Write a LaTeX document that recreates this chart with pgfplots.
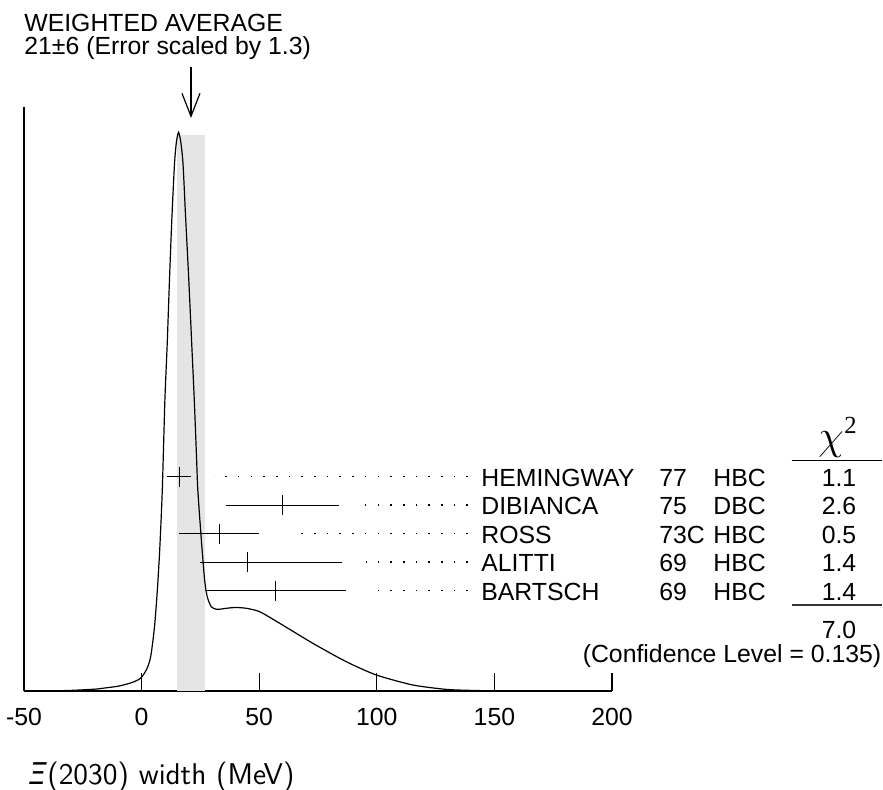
\documentclass[border=0pt]{standalone}
\usepackage{fontspec}
\setmainfont{Liberation Sans}
\newfontfamily\chifont{Liberation Serif}
\newfontfamily\greekfont{DejaVu Sans}
\usepackage{pgfplots}
\pgfplotsset{compat=1.18}
\usetikzlibrary{arrows.meta}

% ideogram curve: x = width (MeV), y = height in picture units
\pgfplotstableread{
x y
-40 0
-30 0.6
-20 1.8
-16.6 2.7
-10 4.8
-5.1 7.7
-2 10.5
0 13.7
2.0 21
3.2 28
4.1 37.7
5.5 64.3
6.7 101
7.7 141
8.8 201
9.9 291
10.9 347.7
11.9 414.3
12.9 474.3
14.0 527.7
14.8 549
15.7 558.7
16.6 550
17.6 527.7
18.7 474.3
20.0 414.3
21.3 347.7
22.4 291
23.4 231
23.9 201
25.4 151
26.8 111
27.9 94.3
29.6 84.3
31.8 81.7
34 82
36.0 82.7
40 83.5
44.5 82.7
50.2 79.3
58.7 67.7
72.8 47.7
87.0 29.3
99.8 16
115.3 6
129.5 1.6
140 0.6
150 0.2
175 0
}\ideogram

\begin{document}
\begin{tikzpicture}
\useasboundingbox (-12pt,-49.5pt) rectangle (429.5pt,345.5pt);
\begin{axis}[
  at={(0,0)}, anchor=south west,
  scale only axis, width=294pt, height=292pt,
  xmin=-50, xmax=200, ymin=0, ymax=584,
  axis x line=bottom, axis y line=left,
  axis line style={-, line width=0.65pt},
  xtick={-50,0,50,100,150,200},
  xticklabels={-50,0,50,100,150,200},
  ytick=\empty,
  tick align=inside, major tick length=9pt,
  tick style={line width=0.65pt, black},
  xticklabel style={font=\fontsize{12.4}{15}\selectfont, yshift=-5.3pt},
  clip=false,
]
\addplot[draw=none, fill=black!10] coordinates {(15,556) (27,556)} \closedcycle;
\addplot[black, line width=0.6pt, smooth, tension=0.4] table {\ideogram};
\addplot[black, line width=0.6pt, only marks, mark=|, mark size=5pt,
  error bars/.cd, x dir=both, x explicit, error mark=none,
  error bar style={line width=0.6pt}]
  coordinates {
    (16,214.3) +- (5,0)
    (60,185.8) +- (24,0)
    (33,157.3) +- (17,0)
    (45,128.8) += (40,0) -= (20,0)
    (57,100.3) +- (30,0)
  };
\draw[line width=0.6pt, -{Straight Barb[length=11.5pt,width=9pt]}]
  (axis cs:21,624) -- (axis cs:21,573);
\end{axis}

\begin{scope}[x=0.5pt, y=-0.5pt, shift={(-12pt,345.5pt)},
  every node/.style={inner sep=0pt, font=\fontsize{12.4}{15}\selectfont}]
  % leader dots
  \foreach \xs/\yy in {214/476.7, 360/505.2, 291/533.7, 366/562.2, 369/590.7}
    \draw[line width=0.8pt, dash pattern=on 0.8pt off 5.55pt] (468,\yy) -- (\xs,\yy);
  % table
  \foreach \yy/\name/\yr/\tech/\chi in {486.3/HEMINGWAY/77/HBC/1.1,
      514.8/DIBIANCA/75/DBC/2.6, 543.3/ROSS/73C/HBC/0.5,
      571.8/ALITTI/69/HBC/1.4, 600.3/BARTSCH/69/HBC/1.4} {
    \node[anchor=base west] at (481,\yy) {\name};
    \node[anchor=base west] at (659,\yy) {\yr};
    \node[anchor=base west] at (713,\yy) {\tech};
    \node[anchor=base] at (839,\yy) {\chi};
  }
  \node[anchor=base] at (831,450) {\fontsize{22}{22}\selectfont$\chi$};
  \node[anchor=base west] at (844,433.3) {\chifont\fontsize{12.3}{12}\selectfont 2};
  \draw[line width=0.6pt] (791.7,460.5) -- (881.7,460.5);
  \draw[line width=0.7pt, black!80] (791.7,605) -- (881.7,605);
  \node[anchor=base] at (839,638.6) {7.0};
  \node[anchor=base east] at (881.7,662.6) {(Confidence Level = 0.135)};
  % title
  \node[anchor=base west] at (24,31.7) {WEIGHTED AVERAGE};
  \node[anchor=base west] at (24,55) {21±6 (Error scaled by 1.3)};
  % axis label
  \node[anchor=base west] at (28,785) {\fontsize{15}{18}\selectfont{\greekfont\itshape Ξ}\sffamily(2030) width (MeV)};
\end{scope}
\end{tikzpicture}
\end{document}
